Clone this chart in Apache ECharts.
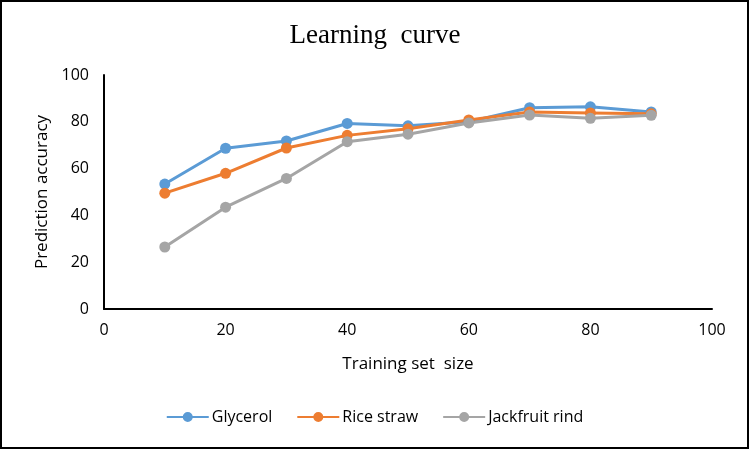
<!DOCTYPE html>
<html><head><meta charset="utf-8">
<script src="https://cdn.jsdelivr.net/npm/echarts@6/dist/echarts.min.js"></script>
<style>html,body{margin:0;padding:0;background:#fff}#c{width:750px;height:450px}</style>
</head><body><div id="c"></div>
<script>
const sizes = [10, 20, 30, 40, 50, 60, 70, 80, 90];
const glycerol = [53.4, 68.7, 71.8, 79.3, 78.3, 80, 86, 86.4, 84.2];
const riceStraw = [49.5, 58, 68.8, 74.2, 77, 80.8, 84.2, 83.8, 83.4];
const jackfruit = [26.5, 43.5, 55.8, 71.5, 74.7, 79.5, 82.9, 81.5, 82.8];
const seriesNames = ['Glycerol', 'Rice straw', 'Jackfruit rind'];
const colors = ['#5B9BD5', '#ED7D31', '#A5A5A5'];

const font = 'Open Sans';
const chart = echarts.init(document.getElementById('c'));
function mk(name, vals, color) {
  return {
    name: name, type: 'line', data: sizes.map((s, i) => [s, vals[i]]),
    symbol: 'circle', symbolSize: 11, color: color,
    lineStyle: { width: 3, color: color }, itemStyle: { color: color },
    emphasis: { disabled: true }
  };
}
chart.setOption({
  animation: false,
  title: { text: 'Learning  curve', left: 'center', top: 17,
    textStyle: { fontFamily: 'Liberation Serif', fontSize: 27, fontWeight: 'normal', color: '#000' } },
  graphic: [{ type: 'rect', shape: { x: 1, y: 1, width: 747, height: 447 },
    style: { fill: 'none', stroke: '#000', lineWidth: 2 }, silent: true }],
  legend: { bottom: 20, left: 'center', itemGap: 25, itemWidth: 42, itemHeight: 12,
    icon: 'path://M0,5 L42,5 L42,7 L0,7 Z M21,1 A5,5 0 1 1 21,11 A5,5 0 1 1 21,1 Z',
    textStyle: { fontFamily: font, fontSize: 16, color: '#000', padding: [0, 0, 0, -2] },
    data: seriesNames },
  grid: { left: 104, right: 38, top: 75, bottom: 141 },
  xAxis: { type: 'value', min: 0, max: 100, interval: 20,
    name: 'Training set  size', nameLocation: 'middle', nameGap: 47,
    nameTextStyle: { fontFamily: font, fontSize: 17, color: '#000' },
    axisLine: { lineStyle: { color: '#000', width: 2 } }, axisTick: { show: false },
    splitLine: { show: false },
    axisLabel: { fontFamily: font, fontSize: 16, color: '#000', margin: 13 } },
  yAxis: { type: 'value', min: 0, max: 100, interval: 20,
    name: 'Prediction accuracy', nameLocation: 'middle', nameGap: 46,
    nameTextStyle: { fontFamily: font, fontSize: 17, color: '#000' },
    axisLine: { show: true, lineStyle: { color: '#000', width: 2 } }, axisTick: { show: false },
    splitLine: { show: false },
    axisLabel: { fontFamily: font, fontSize: 16, color: '#000', margin: 15 } },
  series: [mk(seriesNames[0], glycerol, colors[0]), mk(seriesNames[1], riceStraw, colors[1]), mk(seriesNames[2], jackfruit, colors[2])]
});
</script></body></html>
